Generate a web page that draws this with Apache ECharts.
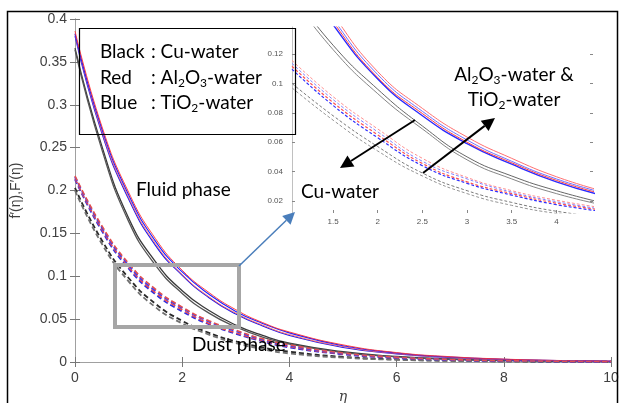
<!DOCTYPE html>
<html lang="en">
<head>
<meta charset="UTF-8">
<title>f'(eta), F'(eta)</title>
<script src="https://cdn.jsdelivr.net/npm/echarts@6/dist/echarts.min.js"></script>
<style>
  html, body { margin: 0; padding: 0; background: #fff; }
  #chart { width: 619px; height: 403px; }
</style>
</head>
<body>
<div id="chart"></div>
<script>
// main plot, eta from 0 to 10
var eta = [0, 0.5, 1, 1.5, 2, 2.5, 3, 3.5, 4, 5, 6, 7, 8, 9, 10];
// fluid phase (solid)
var redSolidA   = [0.386, 0.275, 0.198, 0.144, 0.107, 0.081, 0.061, 0.046, 0.035, 0.020, 0.011, 0.0062, 0.0034, 0.0018, 0.0010];
var blueSolidA  = [0.383, 0.272, 0.195, 0.141, 0.105, 0.079, 0.059, 0.045, 0.034, 0.019, 0.0105, 0.0058, 0.0032, 0.0017, 0.0009];
var redSolidB   = [0.382, 0.269, 0.192, 0.138, 0.102, 0.076, 0.057, 0.043, 0.032, 0.018, 0.0098, 0.0054, 0.0029, 0.0016, 0.0008];
var blueSolidB  = [0.380, 0.267, 0.190, 0.136, 0.101, 0.075, 0.056, 0.042, 0.031, 0.017, 0.0095, 0.0052, 0.0028, 0.0015, 0.0008];
var blackSolidA = [0.366, 0.252, 0.168, 0.117, 0.083, 0.060, 0.043, 0.031, 0.022, 0.012, 0.0065, 0.0035, 0.0019, 0.0010, 0.0005];
var blackSolidB = [0.364, 0.248, 0.164, 0.113, 0.080, 0.057, 0.041, 0.029, 0.021, 0.011, 0.0060, 0.0032, 0.0017, 0.0009, 0.0005];
// dust phase (dashed)
var redDashA   = [0.217, 0.159, 0.115, 0.085, 0.064, 0.048, 0.037, 0.027, 0.020, 0.0105, 0.0056, 0.0030, 0.0016, 0.0009, 0.0004];
var blueDashA  = [0.216, 0.157, 0.113, 0.083, 0.063, 0.047, 0.036, 0.026, 0.019, 0.010, 0.0053, 0.0028, 0.0015, 0.0008, 0.0004];
var redDashB   = [0.214, 0.155, 0.111, 0.081, 0.061, 0.045, 0.034, 0.025, 0.018, 0.0095, 0.0050, 0.0026, 0.0014, 0.0007, 0.0004];
var blueDashB  = [0.213, 0.153, 0.109, 0.079, 0.059, 0.044, 0.033, 0.024, 0.017, 0.009, 0.0047, 0.0025, 0.0013, 0.0007, 0.0003];
var blackDashA = [0.203, 0.142, 0.098, 0.068, 0.048, 0.034, 0.024, 0.017, 0.012, 0.006, 0.003, 0.0015, 0.0008, 0.0004, 0.0002];
var blackDashB = [0.200, 0.138, 0.094, 0.064, 0.045, 0.032, 0.022, 0.015, 0.010, 0.005, 0.0026, 0.0013, 0.0007, 0.0003, 0.0002];

// zoomed inset
var etaZoom = [1.0, 1.5, 2, 2.5, 3, 3.5, 4, 4.5];
var zRedA    = [0.193, 0.147, 0.108, 0.083, 0.0635, 0.049, 0.0365, 0.027];
var zBlueA   = [0.190, 0.144, 0.106, 0.081, 0.0615, 0.047, 0.035, 0.026];
var zRedB    = [0.188, 0.142, 0.104, 0.0795, 0.060, 0.046, 0.034, 0.025];
var zBlueB   = [0.186, 0.140, 0.103, 0.078, 0.059, 0.045, 0.033, 0.024];
var zBlackA  = [0.165, 0.126, 0.096, 0.071, 0.050, 0.037, 0.027, 0.019];
var zBlackB  = [0.162, 0.123, 0.093, 0.069, 0.048, 0.035, 0.025, 0.0175];
var zRedDA   = [0.118, 0.091, 0.069, 0.049, 0.036, 0.027, 0.0205, 0.0155];
var zBlueDA  = [0.116, 0.089, 0.067, 0.047, 0.035, 0.026, 0.0195, 0.0145];
var zRedDB   = [0.114, 0.087, 0.065, 0.0455, 0.033, 0.025, 0.0185, 0.014];
var zBlueDB  = [0.112, 0.085, 0.063, 0.044, 0.032, 0.024, 0.0175, 0.013];
var zGrayDA  = [0.102, 0.078, 0.057, 0.039, 0.027, 0.019, 0.013, 0.009];
var zGrayDB  = [0.099, 0.075, 0.054, 0.037, 0.025, 0.017, 0.0115, 0.008];

var zoomXTicks = [1.5, 2, 2.5, 3, 3.5, 4];
var zoomYTicks = [0.02, 0.04, 0.06, 0.08, 0.1, 0.12];

function pairs(xs, ys) {
  return xs.map(function (x, i) { return [x, ys[i]]; });
}
function curve(xs, ys, color, width, dash, axis) {
  return {
    type: 'line', smooth: true, symbol: 'none', silent: true,
    xAxisIndex: axis, yAxisIndex: axis,
    data: pairs(xs, ys),
    lineStyle: { color: color, width: width, type: dash ? dash : 'solid' }
  };
}
// arrow = shaft + filled head
function arrow(x1, y1, x2, y2, color, w, hl, hw) {
  var dx = x2 - x1, dy = y2 - y1, len = Math.sqrt(dx * dx + dy * dy);
  var ux = dx / len, uy = dy / len;
  var bx = x2 - ux * hl, by = y2 - uy * hl;
  return [
    { type: 'line', shape: { x1: x1, y1: y1, x2: bx, y2: by }, style: { stroke: color, lineWidth: w }, z: 50 },
    { type: 'polygon', shape: { points: [[x2, y2], [bx - uy * hw, by + ux * hw], [bx + uy * hw, by - ux * hw]] }, style: { fill: color }, z: 50 }
  ];
}

var txtFont = 'Lato, "Open Sans", sans-serif';
var rich = {
  n: { fontSize: 19, fontFamily: txtFont, lineHeight: 23, fill: '#000' },
  s: { fontSize: 12, fontFamily: txtFont, lineHeight: 12, verticalAlign: 'bottom', fill: '#000' }
};
function label(x, y, text, align) {
  return {
    type: 'text', x: x, y: y, z: 60,
    style: { text: text, rich: rich, textAlign: align || 'left', textVerticalAlign: 'middle' }
  };
}

var dashL = [5, 3];
var dashS = [3, 2];

var series = [
  curve(eta, blackSolidA, '#3a3a3a', 1.3, null, 0),
  curve(eta, blackSolidB, '#555555', 1.3, null, 0),
  curve(eta, blackDashA, '#2a2a2a', 1.8, dashL, 0),
  curve(eta, blackDashB, '#707070', 1.8, dashL, 0),
  curve(eta, blueSolidB, '#1a1aee', 1.1, null, 0),
  curve(eta, redSolidB, '#ff6060', 0.9, null, 0),
  curve(eta, blueSolidA, '#2020ff', 1.1, null, 0),
  curve(eta, redSolidA, '#ff3030', 0.9, null, 0),
  curve(eta, blueDashB, '#3030e0', 1.8, dashL, 0),
  curve(eta, redDashB, '#f04848', 1.6, dashL, 0),
  curve(eta, blueDashA, '#4040f0', 1.8, dashL, 0),
  curve(eta, redDashA, '#e05050', 1.6, dashL, 0),

  curve(etaZoom, zBlackA, '#555555', 0.9, null, 2),
  curve(etaZoom, zBlackB, '#777777', 0.9, null, 2),
  curve(etaZoom, zGrayDA, '#7a7a7a', 1.0, dashS, 2),
  curve(etaZoom, zGrayDB, '#959595', 1.0, dashS, 2),
  curve(etaZoom, zBlueB, '#2a2aff', 1.4, null, 2),
  curve(etaZoom, zRedB, '#ff4040', 1.0, null, 2),
  curve(etaZoom, zBlueA, '#7070ff', 1.0, null, 2),
  curve(etaZoom, zRedA, '#ff7070', 1.0, null, 2),
  curve(etaZoom, zBlueDB, '#3030ff', 1.2, dashS, 2),
  curve(etaZoom, zRedDB, '#ff5050', 1.2, dashS, 2),
  curve(etaZoom, zBlueDA, '#8080ff', 1.0, dashS, 2),
  curve(etaZoom, zRedDA, '#ff9090', 1.0, dashS, 2)
];

var axisGray = '#a0a0a0';
var labelGray = '#404040';

var graphics = [
  // figure frame
  { type: 'rect', shape: { x: 7.5, y: 11.5, width: 610, height: 400 }, style: { fill: null, stroke: '#000', lineWidth: 1.5 }, z: 40 },
  // legend box
  { type: 'rect', shape: { x: 79.5, y: 28.5, width: 216, height: 106 }, style: { fill: null, stroke: '#000', lineWidth: 1.2 }, z: 40 },
  // zoom window
  { type: 'rect', shape: { x: 115, y: 265, width: 124, height: 62 }, style: { fill: null, stroke: '#a6a6a6', lineWidth: 4 }, z: 40 },
  label(100, 52, '{n|Black}'),
  label(100, 78, '{n|Red}'),
  label(100, 103, '{n|Blue}'),
  label(151, 52, '{n|: Cu-water}'),
  label(151, 78, '{n|: Al}{s|2}{n|O}{s|3}{n|-water}'),
  label(151, 103, '{n|: TiO}{s|2}{n|-water}'),
  label(136, 190, '{n|Fluid phase}'),
  label(192, 345, '{n|Dust phase}'),
  label(301, 192, '{n|Cu-water}'),
  label(514, 75, '{n|Al}{s|2}{n|O}{s|3}{n|-water &}', 'center'),
  label(514, 100, '{n|TiO}{s|2}{n|-water}', 'center')
]
  .concat(arrow(415, 120, 340, 168, '#000', 2, 13, 6.5))
  .concat(arrow(423, 173, 495, 118, '#000', 2, 13, 6.5))
  .concat(arrow(239, 266, 295, 212, '#4a7ebb', 1.5, 12, 6));

var chart = echarts.init(document.getElementById('chart'));
chart.setOption({
  animation: false,
  backgroundColor: '#fff',
  grid: [
    { left: 75, top: 19, right: 8, bottom: 41, outerBoundsMode: 'none', containLabel: false },
    { left: 292, top: 27, width: 301, height: 186, outerBoundsMode: 'none', containLabel: false }
  ],
  xAxis: [
    {
      gridIndex: 0, type: 'value', min: 0, max: 10, interval: 2,
      axisLine: { lineStyle: { color: axisGray } },
      axisTick: { inside: true, length: 5, lineStyle: { color: '#777' } },
      axisLabel: { color: labelGray, fontSize: 14, margin: 9, fontFamily: 'Liberation Sans' },
      splitLine: { show: false },
      name: 'η', nameLocation: 'middle', nameGap: 27,
      nameTextStyle: { color: labelGray, fontSize: 14, fontStyle: 'italic', fontFamily: 'DejaVu Serif' }
    },
    {
      gridIndex: 0, type: 'value', position: 'top', min: 0, max: 10, interval: 2,
      axisLine: { lineStyle: { color: axisGray } },
      axisTick: { inside: true, length: 5, lineStyle: { color: '#777' } },
      axisLabel: { show: false }, splitLine: { show: false }
    },
    {
      gridIndex: 1, type: 'value', min: 1.04, max: 4.41,
      axisLine: { show: false },
      axisTick: { inside: true, length: 3, customValues: zoomXTicks, lineStyle: { color: '#888' } },
      axisLabel: { customValues: zoomXTicks, color: '#555', fontSize: 8, margin: 5, fontFamily: 'Liberation Sans' },
      splitLine: { show: false }
    }
  ],
  yAxis: [
    {
      gridIndex: 0, type: 'value', min: 0, max: 0.4, interval: 0.05,
      axisLine: { show: true, lineStyle: { color: axisGray } },
      axisTick: { show: true, inside: true, length: 5, lineStyle: { color: '#777' } },
      axisLabel: { color: labelGray, fontSize: 14, margin: 8, fontFamily: 'Liberation Sans' },
      splitLine: { show: false },
      name: 'f′(η),F′(η)', nameLocation: 'middle', nameGap: 52, nameRotate: 90,
      nameTextStyle: { color: labelGray, fontSize: 14, fontFamily: 'Liberation Sans' }
    },
    {
      gridIndex: 0, type: 'value', position: 'right', min: 0, max: 0.4, interval: 0.05,
      axisLine: { show: true, lineStyle: { color: axisGray } },
      axisTick: { show: true, inside: true, length: 5, lineStyle: { color: '#777' } },
      axisLabel: { show: false }, splitLine: { show: false }
    },
    {
      gridIndex: 1, type: 'value', min: 0.0118, max: 0.1384,
      axisLine: { show: true, lineStyle: { color: '#c0c0c0' } },
      axisTick: { show: true, inside: true, length: 3, customValues: zoomYTicks, lineStyle: { color: '#888' } },
      axisLabel: { customValues: zoomYTicks, color: '#555', fontSize: 8, margin: 9, fontFamily: 'Liberation Sans' },
      splitLine: { show: false }
    },
    {
      gridIndex: 1, type: 'value', position: 'right', min: 0.0118, max: 0.1384,
      axisLine: { show: false },
      axisTick: { show: true, inside: true, length: 3, customValues: zoomYTicks, lineStyle: { color: '#888' } },
      axisLabel: { show: false }, splitLine: { show: false }
    }
  ],
  series: series,
  graphic: graphics
});
</script>
</body>
</html>
